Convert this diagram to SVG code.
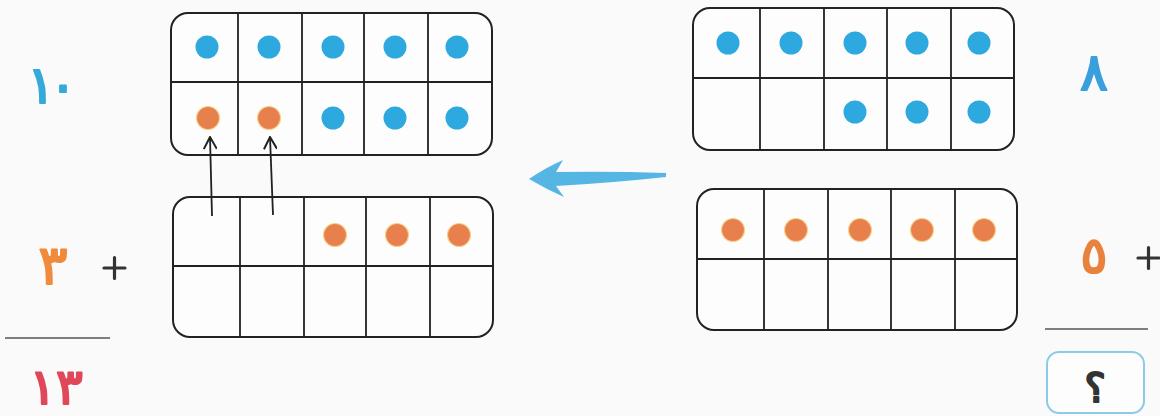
<svg xmlns="http://www.w3.org/2000/svg" width="1160" height="416" viewBox="0 0 1160 416">
<style>
.frame{fill:#fdfdfd;stroke:#222;stroke-width:2}
.grid{stroke:#222;stroke-width:1.8;fill:none}
.b{fill:#2da9df}
.o{fill:#e8804e;stroke:#f6d38a;stroke-width:1.2}
.num{font-family:"DejaVu Sans",sans-serif;font-weight:normal;text-anchor:middle;stroke-width:2.2;stroke-linejoin:round}
.plus{stroke:#333;stroke-width:3.2;stroke-linecap:round}
.rule{stroke:#555;stroke-width:1.4}
.conn{stroke:#222;stroke-width:1.8;fill:none}
</style>
<defs>
<marker id="ah" viewBox="0 0 14 14" refX="13" refY="7" markerWidth="14" markerHeight="14" markerUnits="userSpaceOnUse" orient="auto">
<path d="M1,0.5 L13,7 L1,13.5" fill="none" stroke="#222" stroke-width="2"/>
</marker>
</defs>
<rect width="1160" height="416" fill="#fafafa"/>

<g id="frame-top-left">
<rect class="frame" x="171" y="13" width="321" height="142" rx="17"/>
<path class="grid" d="M238,13V155M302,13V155M364,13V155M428,13V155M171,82H492"/>
<circle class="b" cx="207" cy="47" r="11.5"/><circle class="b" cx="269" cy="47" r="11.5"/><circle class="b" cx="333" cy="47" r="11.5"/><circle class="b" cx="395" cy="47" r="11.5"/><circle class="b" cx="457" cy="47" r="11.5"/>
<circle class="o" cx="208" cy="118" r="11.5"/><circle class="o" cx="269" cy="118" r="11.5"/><circle class="b" cx="333" cy="118" r="11.5"/><circle class="b" cx="395" cy="118" r="11.5"/><circle class="b" cx="457" cy="118" r="11.5"/>
</g>

<g id="frame-top-right">
<rect class="frame" x="693" y="8" width="321" height="142" rx="17"/>
<path class="grid" d="M760,8V150M824,8V150M887,8V150M951,8V150M693,78H1014"/>
<circle class="b" cx="728" cy="43" r="11.5"/><circle class="b" cx="791" cy="43" r="11.5"/><circle class="b" cx="855" cy="43" r="11.5"/><circle class="b" cx="917" cy="43" r="11.5"/><circle class="b" cx="979" cy="43" r="11.5"/>
<circle class="b" cx="855" cy="112" r="11.5"/><circle class="b" cx="917" cy="112" r="11.5"/><circle class="b" cx="979" cy="112" r="11.5"/>
</g>

<g id="frame-bottom-left">
<rect class="frame" x="173" y="197" width="320" height="140" rx="17"/>
<path class="grid" d="M240,197V337M304,197V337M366,197V337M430,197V337M173,266H493"/>
<circle class="o" cx="335" cy="235" r="11.5"/><circle class="o" cx="397" cy="235" r="11.5"/><circle class="o" cx="459" cy="235" r="11.5"/>
</g>

<g id="frame-bottom-right">
<rect class="frame" x="697" y="189" width="320" height="141" rx="17"/>
<path class="grid" d="M764,189V330M828,189V330M891,189V330M955,189V330M697,259H1017"/>
<circle class="o" cx="733" cy="230" r="11.5"/><circle class="o" cx="796" cy="230" r="11.5"/><circle class="o" cx="860" cy="230" r="11.5"/><circle class="o" cx="922" cy="230" r="11.5"/><circle class="o" cx="984" cy="230" r="11.5"/>
</g>

<g id="connectors">
<line class="conn" x1="212" y1="216" x2="210" y2="137" marker-end="url(#ah)"/>
<line class="conn" x1="273" y1="215" x2="270" y2="137" marker-end="url(#ah)"/>
<path d="M666,173 Q610,171 556,172 L563,160 Q545,168 529,179 Q546,189 564,197 L556,186 Q610,183 666,177 Z" fill="#55b6e4"/>
</g>

<g id="left-sum">
<text class="num" x="52" y="103" font-size="52" fill="#34aad9" stroke="#34aad9" textLength="50" lengthAdjust="spacing">١٠</text>
<text class="num" x="53" y="284" font-size="54" fill="#f08b3e" stroke="#f08b3e">٣</text>
<path class="plus" d="M104,268H125M114.5,257.5V278.5"/>
<line class="rule" x1="5" y1="338" x2="110" y2="338"/>
<text class="num" x="56" y="404" font-size="50" fill="#e0485a" stroke="#e0485a">١٣</text>
</g>

<g id="right-sum">
<text class="num" x="1094" y="90" font-size="52" fill="#3a9fdc" stroke="#3a9fdc">٨</text>
<text class="num" x="1094" y="273" font-size="50" fill="#e8823c" stroke="#e8823c">٥</text>
<path class="plus" d="M1138,258H1159M1148.5,247.5V268.5"/>
<line class="rule" x1="1045" y1="329" x2="1148" y2="329"/>
<rect x="1047" y="352" width="97" height="61" rx="12" fill="#fdfdfd" stroke="#8ccbe6" stroke-width="2"/>
<text class="num" x="1095" y="402" font-size="40" fill="#333" stroke="#333" stroke-width="0.8">؟</text>
</g>
</svg>
